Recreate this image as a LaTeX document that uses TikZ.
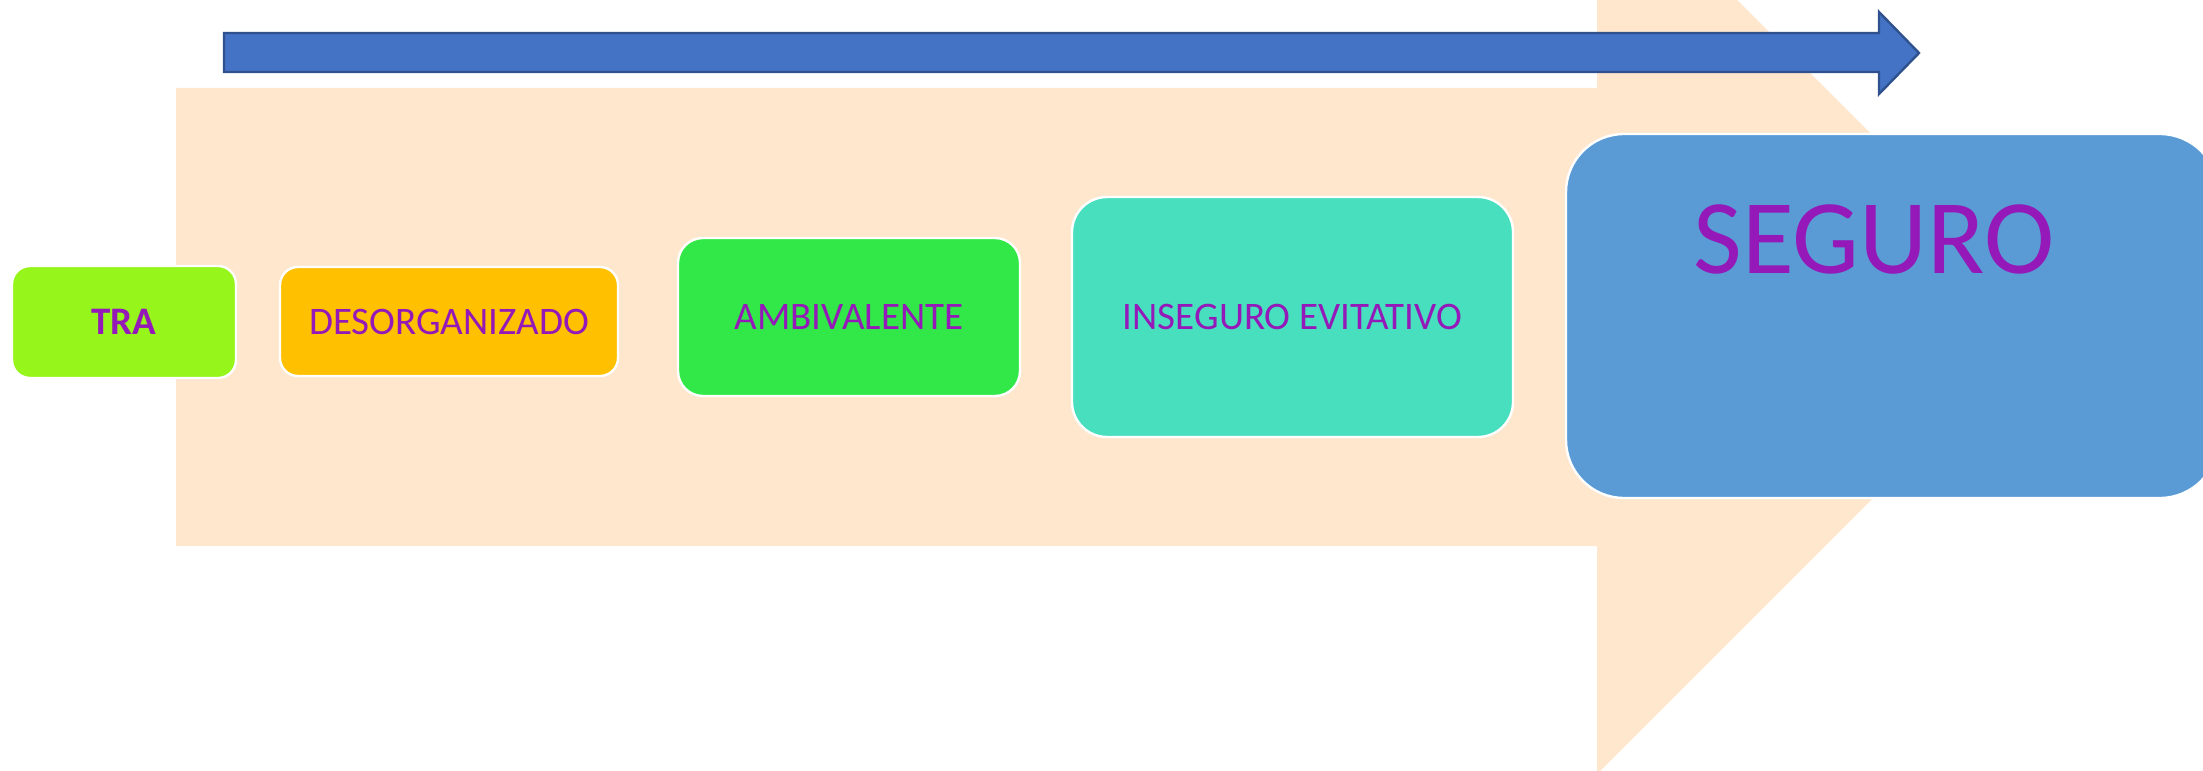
\documentclass[tikz,border=0pt]{standalone}
\usepackage{fontspec}
\setmainfont{Carlito}
\definecolor{peach}{HTML}{FEE7CD}
\definecolor{arrowblue}{HTML}{4472C4}
\definecolor{arrowedge}{HTML}{2F528F}
\definecolor{txtpurple}{HTML}{9419B8}
\definecolor{traGreen}{HTML}{96F51B}
\definecolor{desOrange}{HTML}{FFC000}
\definecolor{ambGreen}{HTML}{32E849}
\definecolor{insTeal}{HTML}{48DFBF}
\definecolor{segBlue}{HTML}{5B9BD5}
\begin{document}
\begin{tikzpicture}[x=0.5pt,y=-0.5pt,
  stagebox/.style={draw=white, line width=1.2pt, rounded corners=#1, inner sep=0pt,
    text=txtpurple, font=\fontsize{19.5}{22}\selectfont},
  stagebox/.default=9pt]
\useasboundingbox (0,0) rectangle (2203,770);
\clip (0,0) rectangle (2203,770);
% background block arrow
\fill[peach] (176,88) -- (1597,88) -- (1597,-140) -- (2054,317) -- (1597,774)
  -- (1597,546) -- (176,546) -- cycle;
% top arrow
\draw[fill=arrowblue, draw=arrowedge, line width=1.2pt, line join=miter]
  (224,33) -- (1879,33) -- (1879,12) -- (1919,53) -- (1879,94) -- (1879,72) -- (224,72) -- cycle;
% stages
\node[stagebox, fill=traGreen, minimum width=112pt, minimum height=56pt,
  font=\fontsize{19.5}{22}\selectfont\bfseries] (tra) at (124,322) {TRA};
\node[stagebox, fill=desOrange, minimum width=169pt, minimum height=54.5pt] (des) at (449,321.5) {DESORGANIZADO};
\node[stagebox=12.5pt, fill=ambGreen, minimum width=171pt, minimum height=79pt] (amb) at (849,317) {AMBIVALENTE};
\node[stagebox=17.5pt, fill=insTeal, minimum width=220.5pt, minimum height=120pt] (ins) at (1292.5,317) {INSEGURO EVITATIVO};
\node[stagebox=29pt, fill=segBlue, minimum width=326pt, minimum height=182pt] (seg) at (1892,316) {};
\node[anchor=base, inner sep=0pt, text=txtpurple, font=\fontsize{53}{60}\selectfont] (segtxt) at (1874,273) {SEGURO};
\end{tikzpicture}
\end{document}
